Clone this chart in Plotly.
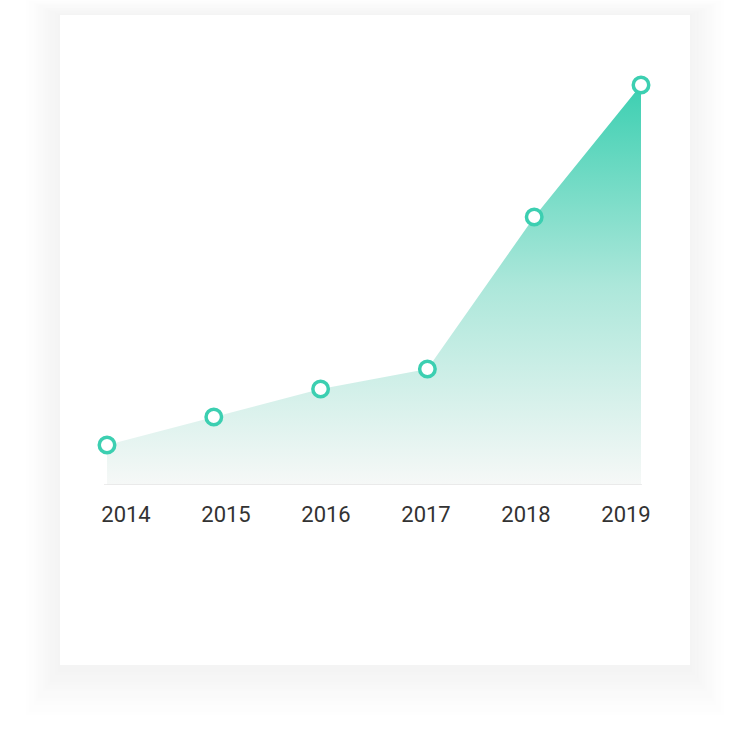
import plotly.graph_objects as go

years = [2014, 2015, 2016, 2017, 2018, 2019]
values = [10, 17, 24, 29, 67, 100]
tick_labels = ["2014", "2015", "2016", "2017", "2018", "2019"]

TEAL = "#3ccfb1"
W, H = 750, 746
L, R, T, B = 107, 641, 85, 485  # plot area in px

def px_x(p):
    return (p - L) / (R - L)

def px_y(p):
    return (B - p) / (B - T)

fig = go.Figure()

# area with gradient
fig.add_trace(go.Scatter(
    x=years, y=values, mode="lines", line=dict(width=0, color=TEAL),
    fill="tozeroy",
    fillgradient=dict(type="vertical",
                      colorscale=[[0, "rgba(246,248,247,1)"], [0.5, "rgba(172,231,218,1)"], [1, "rgba(60,207,177,1)"]]),
    hoverinfo="skip", showlegend=False,
))
# markers
fig.add_trace(go.Scatter(
    x=years, y=values, mode="markers",
    marker=dict(size=15.5, color="white", line=dict(color=TEAL, width=3.5)),
    cliponaxis=False, showlegend=False,
))

shapes = []
# card shadow: solid layers from outer (light) to inner (darker)
cx0, cx1, cy0, cy1 = 60, 690, 15, 665
n = 14
for i in range(n, 0, -1):
    d = i * 2.4
    g = int(round(255 - (n - i + 1) * (11 / n)))
    shapes.append(dict(type="rect", xref="paper", yref="paper", layer="below",
                       x0=px_x(cx0 - d), x1=px_x(cx1 + d),
                       y0=px_y(cy1 + d * 1.4 + 3), y1=px_y(cy0 - d * 0.45),
                       line=dict(width=0), fillcolor=f"rgb({g},{g},{g})"))
shapes.append(dict(type="rect", xref="paper", yref="paper", layer="below",
                   x0=px_x(cx0), x1=px_x(cx1), y0=px_y(cy1), y1=px_y(cy0),
                   line=dict(width=0), fillcolor="white"))
# baseline
shapes.append(dict(type="line", xref="paper", yref="y", x0=px_x(104), x1=px_x(642), y0=0, y1=0,
                   line=dict(color="#e6e6e6", width=1.5)))

span = (years[-1] - years[0])
step = 100 / (R - L) * span
tick_pos = [years[0] + 19 / (R - L) * span + i * step for i in range(len(tick_labels))]

fig.update_layout(
    width=W, height=H,
    margin=dict(l=L, r=W - R, t=T, b=H - B),
    paper_bgcolor="white", plot_bgcolor="rgba(0,0,0,0)",
    shapes=shapes,
    xaxis=dict(range=[years[0], years[-1]], showgrid=False, zeroline=False, showline=False,
               tickvals=tick_pos, ticktext=tick_labels, ticks="",
               tickfont=dict(family="Roboto", size=22, color="#333333"), ticklabelstandoff=14,
               fixedrange=True),
    yaxis=dict(range=[0, 100], visible=False, fixedrange=True),
    showlegend=False,
)

fig.write_html("out.html")
